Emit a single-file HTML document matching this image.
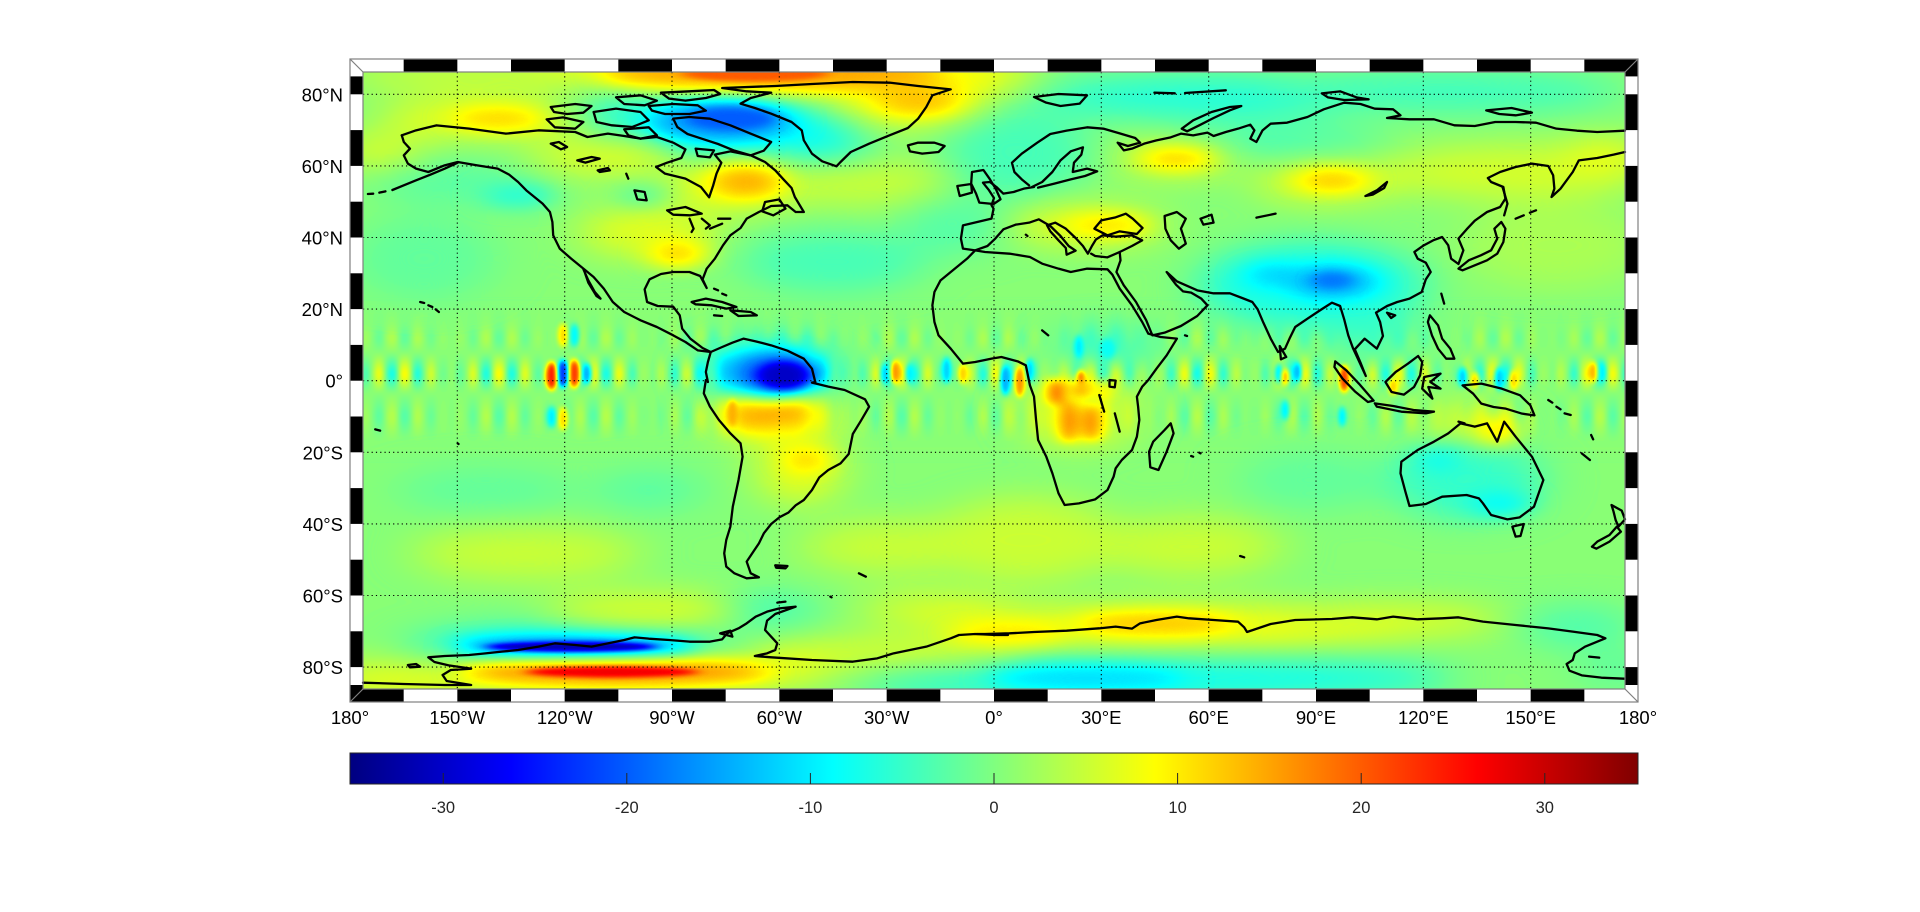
<!DOCTYPE html>
<html><head><meta charset="utf-8"><style>
html,body{margin:0;padding:0;background:#fff;}
svg{display:block}
.c path{vector-effect:non-scaling-stroke;}
text{font-family:"Liberation Sans",Arial,sans-serif;}
</style></head><body>
<svg width="1920" height="912" viewBox="0 0 1920 912" xmlns="http://www.w3.org/2000/svg">
<defs>
<clipPath id="mapclip"><rect x="363" y="72" width="1262" height="617"/></clipPath>
<clipPath id="outclip"><rect x="350" y="59" width="1288" height="643"/></clipPath>
<filter id="jet" filterUnits="userSpaceOnUse" x="340" y="50" width="1310" height="660" color-interpolation-filters="sRGB">
<feComponentTransfer>
<feFuncR type="table" tableValues="0 0 0 0 0.5 1 1 1 0.5"/>
<feFuncG type="table" tableValues="0 0 0.5 1 1 1 0.5 0 0"/>
<feFuncB type="table" tableValues="0.5 1 1 1 0.5 0 0 0 0"/>
</feComponentTransfer>
</filter>
<filter id="fA" filterUnits="userSpaceOnUse" x="-600" y="-600" width="4300" height="3100" color-interpolation-filters="sRGB"><feGaussianBlur stdDeviation="60 45"/></filter>
<filter id="fB" filterUnits="userSpaceOnUse" x="-600" y="-600" width="4300" height="3100" color-interpolation-filters="sRGB"><feGaussianBlur stdDeviation="35 25"/></filter>
<filter id="fC" filterUnits="userSpaceOnUse" x="-600" y="-600" width="4300" height="3100" color-interpolation-filters="sRGB"><feGaussianBlur stdDeviation="18 12"/></filter>
<filter id="fT" filterUnits="userSpaceOnUse" x="-600" y="-600" width="4300" height="3100" color-interpolation-filters="sRGB"><feGaussianBlur stdDeviation="18 6"/></filter>
<filter id="fD" filterUnits="userSpaceOnUse" x="-600" y="-600" width="4300" height="3100" color-interpolation-filters="sRGB"><feGaussianBlur stdDeviation="6 9"/></filter>
<filter id="fS" filterUnits="userSpaceOnUse" x="-600" y="-600" width="4300" height="3100" color-interpolation-filters="sRGB"><feGaussianBlur stdDeviation="8 10"/></filter>
<linearGradient id="gA" x1="0" y1="0" x2="0" y2="1">
<stop offset="0" stop-color="#828282"/><stop offset="0.13" stop-color="#858585"/><stop offset="0.22" stop-color="#8e8e8e"/><stop offset="0.32" stop-color="#828282"/><stop offset="0.46" stop-color="#5f5f5f"/><stop offset="0.58" stop-color="#828282"/><stop offset="0.74" stop-color="#8f8f8f"/><stop offset="0.9" stop-color="#828282"/><stop offset="1" stop-color="#828282"/>
</linearGradient>
<linearGradient id="gB" x1="0" y1="0" x2="0" y2="1">
<stop offset="0" stop-color="#828282"/><stop offset="0.13" stop-color="#7f7f7f"/><stop offset="0.22" stop-color="#767676"/><stop offset="0.32" stop-color="#828282"/><stop offset="0.46" stop-color="#a5a5a5"/><stop offset="0.58" stop-color="#828282"/><stop offset="0.74" stop-color="#737373"/><stop offset="0.9" stop-color="#828282"/><stop offset="1" stop-color="#828282"/>
</linearGradient>
<pattern id="st1" patternUnits="userSpaceOnUse" x="0" y="700" width="58" height="450"><rect x="0" y="0" width="29" height="450" fill="url(#gA)"/><rect x="29" y="0" width="29" height="450" fill="url(#gB)"/></pattern>
<pattern id="st2" patternUnits="userSpaceOnUse" x="10" y="700" width="76" height="450"><rect x="0" y="0" width="38" height="450" fill="url(#gB)"/><rect x="38" y="0" width="38" height="450" fill="url(#gA)"/></pattern>
<linearGradient id="cbar" x1="0" y1="0" x2="1" y2="0">
<stop offset="0" stop-color="#000080"/><stop offset="0.125" stop-color="#0000ff"/><stop offset="0.375" stop-color="#00ffff"/><stop offset="0.625" stop-color="#ffff00"/><stop offset="0.875" stop-color="#ff0000"/><stop offset="1" stop-color="#800000"/>
</linearGradient>
</defs>
<rect width="1920" height="912" fill="#fff"/>

<!-- frame checker -->
<g fill="#000">
<rect x="403.67" y="59" width="53.67" height="13"/><rect x="511" y="59" width="53.67" height="13"/><rect x="618.33" y="59" width="53.67" height="13"/><rect x="725.67" y="59" width="53.67" height="13"/><rect x="833" y="59" width="53.67" height="13"/><rect x="940.33" y="59" width="53.67" height="13"/><rect x="1047.67" y="59" width="53.67" height="13"/><rect x="1155" y="59" width="53.67" height="13"/><rect x="1262.33" y="59" width="53.67" height="13"/><rect x="1369.67" y="59" width="53.67" height="13"/><rect x="1477" y="59" width="53.67" height="13"/><rect x="1584.33" y="59" width="53.67" height="13"/>
<rect x="350" y="689" width="53.67" height="13"/><rect x="457.33" y="689" width="53.67" height="13"/><rect x="564.67" y="689" width="53.67" height="13"/><rect x="672" y="689" width="53.67" height="13"/><rect x="779.33" y="689" width="53.67" height="13"/><rect x="886.67" y="689" width="53.67" height="13"/><rect x="994" y="689" width="53.67" height="13"/><rect x="1101.33" y="689" width="53.67" height="13"/><rect x="1208.67" y="689" width="53.67" height="13"/><rect x="1316" y="689" width="53.67" height="13"/><rect x="1423.33" y="689" width="53.67" height="13"/><rect x="1530.67" y="689" width="53.67" height="13"/>
<rect x="350" y="76.4" width="13" height="17.9"/><rect x="350" y="130.1" width="13" height="35.8"/><rect x="350" y="201.7" width="13" height="35.8"/><rect x="350" y="273.3" width="13" height="35.8"/><rect x="350" y="344.9" width="13" height="35.8"/><rect x="350" y="416.5" width="13" height="35.8"/><rect x="350" y="488.1" width="13" height="35.8"/><rect x="350" y="559.7" width="13" height="35.8"/><rect x="350" y="631.3" width="13" height="35.8"/><rect x="350" y="685" width="13" height="17"/>
<rect x="1625" y="59" width="13" height="17.4"/><rect x="1625" y="94.3" width="13" height="35.8"/><rect x="1625" y="165.9" width="13" height="35.8"/><rect x="1625" y="237.5" width="13" height="35.8"/><rect x="1625" y="309.1" width="13" height="35.8"/><rect x="1625" y="380.7" width="13" height="35.8"/><rect x="1625" y="452.3" width="13" height="35.8"/><rect x="1625" y="523.9" width="13" height="35.8"/><rect x="1625" y="595.5" width="13" height="35.8"/><rect x="1625" y="667.1" width="13" height="17.9"/>
</g>

<!-- colour field -->
<g clip-path="url(#mapclip)">
<g filter="url(#jet)">
<rect x="340" y="50" width="1310" height="660" fill="#828282"/>
<g transform="matrix(0.408163 0 0 0.333333 363 72)">
<g filter="url(#fS)">
<rect x="-40" y="700" width="3180" height="450" fill="url(#st1)"/>
<rect x="-40" y="700" width="3180" height="450" fill="url(#st2)" opacity="0.45"/>
</g>
<g filter="url(#fA)">
<ellipse cx="1000" cy="0" rx="650" ry="90" fill="#a0a0a0"/>
<ellipse cx="250" cy="10" rx="300" ry="40" fill="#959595"/>
<ellipse cx="1350" cy="90" rx="170" ry="60" fill="#a8a8a8"/>
<ellipse cx="850" cy="170" rx="330" ry="110" fill="#626262"/>
<ellipse cx="600" cy="90" rx="140" ry="40" fill="#6a6a6a"/>
<ellipse cx="1130" cy="235" rx="110" ry="60" fill="#5f5f5f"/>
<ellipse cx="300" cy="140" rx="260" ry="55" fill="#9d9d9d"/>
<ellipse cx="40" cy="240" rx="100" ry="50" fill="#999999"/>
<ellipse cx="200" cy="330" rx="180" ry="60" fill="#757575"/>
<ellipse cx="600" cy="250" rx="180" ry="60" fill="#999999"/>
<ellipse cx="930" cy="330" rx="170" ry="80" fill="#a0a0a0"/>
<ellipse cx="700" cy="480" rx="170" ry="80" fill="#999999"/>
<ellipse cx="1150" cy="570" rx="230" ry="90" fill="#717171"/>
<ellipse cx="1450" cy="460" rx="130" ry="90" fill="#757575"/>
<ellipse cx="150" cy="560" rx="180" ry="130" fill="#787878"/>
<ellipse cx="1220" cy="330" rx="230" ry="70" fill="#929292"/>
<ellipse cx="2074" cy="75" rx="430" ry="60" fill="#666666"/>
<ellipse cx="2644" cy="60" rx="450" ry="55" fill="#6d6d6d"/>
<ellipse cx="1604" cy="240" rx="180" ry="130" fill="#717171"/>
<ellipse cx="2224" cy="215" rx="280" ry="50" fill="#717171"/>
<ellipse cx="1994" cy="260" rx="150" ry="45" fill="#a0a0a0"/>
<ellipse cx="2364" cy="325" rx="170" ry="55" fill="#a0a0a0"/>
<ellipse cx="2824" cy="300" rx="330" ry="80" fill="#959595"/>
<ellipse cx="3044" cy="240" rx="90" ry="35" fill="#a4a4a4"/>
<ellipse cx="1774" cy="460" rx="190" ry="55" fill="#9d9d9d"/>
<ellipse cx="2324" cy="640" rx="280" ry="130" fill="#666666"/>
<ellipse cx="1824" cy="820" rx="110" ry="55" fill="#6a6a6a"/>
<ellipse cx="2474" cy="780" rx="110" ry="70" fill="#6d6d6d"/>
<ellipse cx="2924" cy="520" rx="230" ry="130" fill="#8a8a8a"/>
<ellipse cx="1000" cy="900" rx="160" ry="100" fill="#5f5f5f"/>
<ellipse cx="1010" cy="1034" rx="150" ry="80" fill="#a0a0a0"/>
<ellipse cx="1070" cy="1194" rx="95" ry="100" fill="#9d9d9d"/>
<ellipse cx="520" cy="1720" rx="420" ry="55" fill="#626262"/>
<ellipse cx="620" cy="1800" rx="520" ry="60" fill="#a0a0a0"/>
<ellipse cx="100" cy="1824" rx="230" ry="50" fill="#9d9d9d"/>
<ellipse cx="700" cy="1624" rx="260" ry="55" fill="#999999"/>
<ellipse cx="1400" cy="1614" rx="190" ry="45" fill="#999999"/>
<ellipse cx="1300" cy="1744" rx="330" ry="35" fill="#9d9d9d"/>
<ellipse cx="1450" cy="1829" rx="230" ry="40" fill="#666666"/>
<ellipse cx="1000" cy="1614" rx="110" ry="45" fill="#6d6d6d"/>
<ellipse cx="400" cy="1444" rx="280" ry="80" fill="#929292"/>
<ellipse cx="1300" cy="1424" rx="230" ry="80" fill="#929292"/>
<ellipse cx="300" cy="1254" rx="230" ry="70" fill="#787878"/>
<ellipse cx="700" cy="1254" rx="140" ry="60" fill="#757575"/>
<ellipse cx="1754" cy="1024" rx="130" ry="100" fill="#9d9d9d"/>
<ellipse cx="2704" cy="1224" rx="190" ry="120" fill="#6d6d6d"/>
<ellipse cx="2704" cy="1054" rx="110" ry="55" fill="#999999"/>
<ellipse cx="2024" cy="1664" rx="620" ry="60" fill="#a0a0a0"/>
<ellipse cx="2524" cy="1644" rx="280" ry="45" fill="#999999"/>
<ellipse cx="2024" cy="1819" rx="650" ry="60" fill="#626262"/>
<ellipse cx="2974" cy="1664" rx="140" ry="55" fill="#717171"/>
<ellipse cx="1624" cy="1404" rx="230" ry="130" fill="#929292"/>
<ellipse cx="2024" cy="1424" rx="230" ry="90" fill="#929292"/>
<ellipse cx="2324" cy="1224" rx="180" ry="90" fill="#787878"/>
<ellipse cx="3074" cy="1794" rx="100" ry="50" fill="#757575"/>
</g>
<g filter="url(#fB)">
<ellipse cx="1000" cy="5" rx="420" ry="45" fill="#b6b6b6"/>
<ellipse cx="1360" cy="85" rx="90" ry="35" fill="#afafaf"/>
<ellipse cx="880" cy="150" rx="180" ry="60" fill="#494949"/>
<ellipse cx="330" cy="140" rx="110" ry="30" fill="#ababab"/>
<ellipse cx="940" cy="330" rx="85" ry="45" fill="#b3b3b3"/>
<ellipse cx="770" cy="545" rx="70" ry="40" fill="#ababab"/>
<ellipse cx="380" cy="370" rx="90" ry="40" fill="#6a6a6a"/>
<ellipse cx="680" cy="370" rx="60" ry="30" fill="#757575"/>
<ellipse cx="1010" cy="905" rx="110" ry="65" fill="#373737"/>
<ellipse cx="900" cy="900" rx="25" ry="55" fill="#4c4c4c"/>
<ellipse cx="1994" cy="260" rx="85" ry="25" fill="#afafaf"/>
<ellipse cx="2374" cy="325" rx="85" ry="28" fill="#afafaf"/>
<ellipse cx="1824" cy="460" rx="100" ry="28" fill="#a8a8a8"/>
<ellipse cx="2374" cy="630" rx="110" ry="50" fill="#4c4c4c"/>
<ellipse cx="2234" cy="610" rx="70" ry="35" fill="#545454"/>
<ellipse cx="960" cy="1034" rx="45" ry="45" fill="#b6b6b6"/>
<ellipse cx="1050" cy="1024" rx="50" ry="40" fill="#b6b6b6"/>
<ellipse cx="910" cy="1024" rx="25" ry="45" fill="#afafaf"/>
<ellipse cx="1090" cy="1164" rx="45" ry="30" fill="#afafaf"/>
<ellipse cx="520" cy="1722" rx="300" ry="28" fill="#373737"/>
<ellipse cx="620" cy="1800" rx="380" ry="32" fill="#c1c1c1"/>
<ellipse cx="2779" cy="1074" rx="35" ry="45" fill="#b3b3b3"/>
<ellipse cx="2784" cy="1294" rx="75" ry="35" fill="#5f5f5f"/>
<ellipse cx="2634" cy="1164" rx="55" ry="35" fill="#626262"/>
<ellipse cx="1944" cy="1654" rx="190" ry="30" fill="#afafaf"/>
<ellipse cx="1584" cy="1684" rx="140" ry="25" fill="#a8a8a8"/>
<ellipse cx="1774" cy="1819" rx="240" ry="35" fill="#575757"/>
</g>
<g filter="url(#fC)">
<ellipse cx="900" cy="140" rx="110" ry="35" fill="#373737"/>
<ellipse cx="1030" cy="910" rx="65" ry="42" fill="#121212"/>
<ellipse cx="2374" cy="625" rx="50" ry="25" fill="#3e3e3e"/>
<ellipse cx="1699" cy="959" rx="18" ry="40" fill="#d0d0d0"/>
<ellipse cx="1729" cy="1049" rx="18" ry="65" fill="#c5c5c5"/>
<ellipse cx="1759" cy="949" rx="14" ry="30" fill="#c8c8c8"/>
<ellipse cx="1784" cy="1054" rx="18" ry="55" fill="#c5c5c5"/>
<ellipse cx="1814" cy="954" rx="10" ry="30" fill="#b6b6b6"/>
</g>
<g filter="url(#fT)">
<ellipse cx="960" cy="6" rx="180" ry="22" fill="#c8c8c8"/>
<ellipse cx="510" cy="1724" rx="210" ry="14" fill="#0b0b0b"/>
<ellipse cx="610" cy="1800" rx="210" ry="16" fill="#e2e2e2"/>
</g>
<g filter="url(#fD)">
<ellipse cx="462" cy="912" rx="14" ry="42" fill="#d7d7d7"/>
<ellipse cx="490" cy="905" rx="14" ry="42" fill="#2f2f2f"/>
<ellipse cx="518" cy="905" rx="14" ry="42" fill="#d0d0d0"/>
<ellipse cx="548" cy="905" rx="12" ry="32" fill="#4c4c4c"/>
<ellipse cx="462" cy="1035" rx="12" ry="32" fill="#5b5b5b"/>
<ellipse cx="490" cy="1040" rx="12" ry="35" fill="#a8a8a8"/>
<ellipse cx="490" cy="790" rx="12" ry="35" fill="#a8a8a8"/>
<ellipse cx="518" cy="790" rx="12" ry="35" fill="#5f5f5f"/>
<ellipse cx="1305" cy="900" rx="12" ry="35" fill="#bababa"/>
<ellipse cx="1280" cy="905" rx="10" ry="30" fill="#545454"/>
<ellipse cx="1340" cy="905" rx="10" ry="30" fill="#5b5b5b"/>
<ellipse cx="1470" cy="905" rx="12" ry="30" fill="#ababab"/>
<ellipse cx="1430" cy="895" rx="12" ry="40" fill="#545454"/>
<ellipse cx="1574" cy="925" rx="12" ry="45" fill="#4c4c4c"/>
<ellipse cx="1609" cy="930" rx="12" ry="45" fill="#bababa"/>
<ellipse cx="1634" cy="895" rx="10" ry="35" fill="#545454"/>
<ellipse cx="1754" cy="825" rx="12" ry="35" fill="#5b5b5b"/>
<ellipse cx="1824" cy="830" rx="20" ry="30" fill="#626262"/>
<ellipse cx="1759" cy="915" rx="10" ry="20" fill="#c1c1c1"/>
<ellipse cx="2244" cy="905" rx="10" ry="30" fill="#545454"/>
<ellipse cx="2259" cy="915" rx="10" ry="25" fill="#b3b3b3"/>
<ellipse cx="2289" cy="900" rx="10" ry="30" fill="#4c4c4c"/>
<ellipse cx="2404" cy="920" rx="12" ry="40" fill="#d0d0d0"/>
<ellipse cx="2399" cy="1034" rx="10" ry="30" fill="#5b5b5b"/>
<ellipse cx="2259" cy="1014" rx="10" ry="30" fill="#5b5b5b"/>
<ellipse cx="2524" cy="944" rx="12" ry="25" fill="#ababab"/>
<ellipse cx="2694" cy="915" rx="12" ry="30" fill="#545454"/>
<ellipse cx="2724" cy="925" rx="10" ry="25" fill="#ababab"/>
<ellipse cx="2784" cy="920" rx="12" ry="35" fill="#545454"/>
<ellipse cx="2819" cy="925" rx="10" ry="30" fill="#ababab"/>
<ellipse cx="3014" cy="900" rx="12" ry="30" fill="#b3b3b3"/>
<ellipse cx="3034" cy="900" rx="10" ry="30" fill="#5b5b5b"/>
<ellipse cx="905" cy="1024" rx="12" ry="40" fill="#b3b3b3"/>
</g>
</g>
</g>
</g>

<!-- grid -->
<g stroke="#000" stroke-width="1.1" stroke-dasharray="1.2 3.1" fill="none">
<path d="M457.3,72V689M564.7,72V689M672,72V689M779.3,72V689M886.7,72V689M994,72V689M1101.3,72V689M1208.7,72V689M1316,72V689M1423.3,72V689M1530.7,72V689"/>
<path d="M363,94.3H1625M363,165.9H1625M363,237.5H1625M363,309.1H1625M363,380.7H1625M363,452.3H1625M363,523.9H1625M363,595.5H1625M363,667.1H1625"/>
</g>

<!-- coastlines -->
<g clip-path="url(#outclip)">
<g class="c" transform="matrix(0.408163 0 0 0.333333 363 72)" fill="none" stroke="#000" stroke-width="2.3" stroke-linejoin="round" stroke-linecap="round">
<!-- NW -->
<path d="M95,190 L130,175 L180,160 L260,170 L350,185 L430,175 L520,180 L550,195 L600,185 L640,192 L680,200 L720,195 L760,212 L790,232 L780,258 L745,272 L718,285 L740,305 L790,320 L828,345 L848,376 L858,340 L866,305 L878,272 L862,248 L900,238 L950,250 L985,270 L1010,295 L1030,322 L1050,348 L1058,375 L1080,420 L1060,420 L1040,400 L1000,402 L970,420 L940,440 L925,468 L900,490 L882,520 L862,560 L842,590 L832,622 L842,648 L826,612 L800,600 L760,600 L730,606 L702,622 L690,652 L696,690 L722,702 L760,704 L776,730 L782,770 L802,800 L832,828 L852,840 L880,825 L905,812 L932,800 L962,808 L1000,820 L1040,836 L1080,860 L1100,890 L1108,930"/>
<path d="M845,930 L840,900 L845,870 L852,840 L820,835 L790,810 L760,790 L720,765 L680,745 L640,720 L612,690 L590,650 L565,615 L540,590 L510,560 L482,530 L466,490 L464,450 L458,420 L440,395 L420,375 L400,355 L380,330 L358,308 L330,290 L280,280 L232,270 L200,280 L160,300 L130,290 L110,275 L100,250 L115,230 L100,210 L95,190"/>
<path d="M232,272 L200,290 L165,308 L130,325 L100,340 L72,354 M55,358 L40,362 M25,365 L12,366"/>
<path d="M540,592 L552,625 L568,660 L582,680 L572,672 L552,632 L543,600"/>
<path d="M805,690 L840,680 L880,690 L915,705 L890,710 L855,700 L815,697 Z M900,715 L950,720 L965,730 L920,732 Z M860,730 L880,732 M860,650 L870,655 M880,665 L890,670"/>
<path d="M745,415 L790,405 L830,425 L800,430 L760,428 Z M800,440 L810,470 L805,480 M830,440 L850,460 L840,470 M850,470 L880,455 M870,440 L900,440"/>
<path d="M985,390 L1020,382 L1035,410 L1005,430 L978,418 Z"/>
<path d="M460,215 L480,210 L500,225 L485,232 Z M525,265 L560,255 L580,260 L545,272 Z M575,295 L600,288 L605,295 L580,300 Z M645,305 L650,320 M665,355 L690,360 L695,385 L672,382 Z"/>
<path d="M880,48 L1010,42 L1100,36 L1200,30 L1290,32 L1360,42 L1440,52 L1395,70 L1380,105 L1360,140 L1335,168 L1290,190 L1240,215 L1195,240 L1170,270 L1160,283 L1125,268 L1100,245 L1080,205 L1075,175 L1050,150 L1000,125 L960,108 L925,95 L950,78 L1000,62 L940,58 Z"/>
<path d="M1335,220 L1360,212 L1400,212 L1425,222 L1410,240 L1370,245 L1340,238 Z"/>
<path d="M460,105 L520,96 L560,102 L540,122 L500,126 L468,120 Z M450,142 L490,136 L540,150 L520,170 L470,166 Z M565,120 L620,110 L680,120 L700,145 L660,165 L610,160 L572,150 Z M620,76 L680,70 L720,86 L690,100 L640,96 Z M700,102 L760,96 L820,100 L840,116 L800,126 L740,126 L708,116 Z M640,172 L700,166 L720,190 L680,200 L650,190 Z M760,140 L800,135 L850,140 L900,160 L950,185 L1000,210 L982,236 L950,250 L910,236 L870,216 L830,200 L795,186 L770,165 Z M815,230 L860,235 L850,256 L820,252 Z M730,62 L800,58 L860,54 L875,66 L840,78 L790,86 L750,80 Z"/>
<path d="M140,690 L150,693 M160,700 L170,705 M178,712 L186,720"/>
<path d="M1492,300 L1520,294 L1535,320 L1550,350 L1562,382 L1545,396 L1510,392 L1502,365 L1490,335 Z M1456,342 L1490,336 L1492,362 L1462,372 Z"/>
<!-- Africa (global) -->
<path d="M1500,535 L1480,560 L1440,600 L1415,625 L1400,660 L1395,700 L1400,750 L1410,790 L1440,830 L1470,875 L1500,870 L1540,860 L1564,855 L1604,868 L1624,880 L1634,940 L1644,974 L1649,1044 L1654,1104 L1674,1154 L1689,1204 L1704,1264 L1719,1299 L1754,1294 L1794,1282 L1824,1254 L1839,1214 L1844,1189 L1859,1164 L1884,1134 L1896,1094 L1902,1044 L1899,1004 L1896,974 L1909,944 L1924,924 L1944,890 L1969,850 L1994,800 L1954,795 L1924,785 L1909,750 L1884,700 L1854,650 L1836,608 L1824,592 L1774,590 L1734,600 L1704,590 L1664,575 L1634,555 L1584,545 L1524,540 Z"/>
<!-- Indonesia / New Guinea (global) -->
<path d="M2382,868 L2409,895 L2440,935 L2476,986 L2462,990 L2430,958 L2400,920 L2380,885 Z"/>
<path d="M2505,930 L2530,900 L2560,875 L2585,852 L2595,870 L2590,910 L2575,945 L2550,968 L2520,960 Z"/>
<path d="M2600,915 L2640,905 L2615,930 L2640,950 L2610,945 L2620,980 L2595,950 Z"/>
<path d="M2694,940 L2740,935 L2790,950 L2835,970 L2860,1000 L2870,1030 L2840,1025 L2800,1010 L2770,1005 L2740,995 L2720,965 Z"/>
<!-- NE -->
<g transform="translate(1523.9,0)">
<path d="M108,340 L90,322 L72,300 L66,272 L90,245 L128,212 L160,186 L200,176 L250,166 L290,170 L330,184 L368,198 L380,212 L350,222 L325,212 L340,235 L360,230 L390,215 L420,205 L455,196 L480,185 L510,190 L545,182 L560,192 L590,180 L620,170 L650,158 L660,175 L650,200 L665,210 L680,175 L700,155 L740,152 L790,135 L830,112 L880,92 L920,96 L955,110 L1000,112 L1018,130 L985,138 L1040,142 L1100,142 L1150,160 L1200,162 L1250,150 L1300,150 L1350,152 L1400,170 L1450,176 L1500,180 L1568,176"/>
<path d="M115,345 L140,330 L165,300 L185,265 L210,238 L240,226 L236,248 L218,272 L215,300 L250,290 L275,298 L245,312 L210,322 L170,335 L130,347"/>
<path d="M120,345 L95,350 L70,360 L45,365 L28,345 L12,330 L-5,332 L10,355 L22,378 L16,400 L21,410 L16,440 L-54,460 L-59,500 L-54,530 L-24,535 L6,522 L25,500 L45,472 L75,458 L108,452 L132,442 L160,462 L185,492 L205,522 L222,536 L200,548 L198,528 L180,505 L160,478 L152,460 L172,452 L198,470 L222,498 L240,522 L252,545 L262,522 L272,502 L288,490 L320,494 L360,490 L385,505 L360,522 L330,540 L300,556 L270,552 L260,545"/>
<path d="M330,540 L332,565 L322,600 L340,640 L370,690 L395,745 L410,790 L440,782 L480,762 L520,732 L545,700 L530,680 L505,662 L485,658 L468,638 L452,612 L445,600 L470,628 L520,655 L560,664 L600,664 L630,678 L655,690 L668,712 L682,752 L700,800 L718,840 L735,830 L746,800 L760,765 L790,740 L822,714 L850,692 L870,702 L880,742 L890,790 L902,830 L918,872 L933,912 L920,872 L906,832 L930,800 L960,830 L975,792 L968,750 L958,722 L985,702 L1010,690 L1040,680 L1070,660 L1080,622 L1092,600 L1080,572 L1060,560 L1052,540 L1075,520 L1098,505 L1120,495 L1135,520 L1142,560 L1160,576 L1172,535 L1160,500 L1180,472 L1200,446 L1230,420 L1262,405 L1275,380 L1270,345 L1240,330 L1232,318 L1262,300 L1300,285 L1340,275 L1380,282 L1392,310 L1395,350 L1388,375 L1410,350 L1440,300 L1455,265 L1500,258 L1540,248 L1568,240"/>
<path d="M482,170 L510,145 L555,120 L600,105 L628,102 L600,115 L560,138 L525,160 L495,178 Z"/>
<path d="M120,75 L180,66 L250,70 L232,95 L185,102 L150,92 Z"/>
<path d="M415,62 L465,64 M490,63 L590,55"/>
<path d="M825,64 L870,58 L910,76 L940,82 L880,84 L840,76 Z"/>
<path d="M1228,115 L1290,108 L1340,122 L1300,130 L1260,126 Z"/>
<path d="M268,470 L285,445 L320,436 L345,425 L362,440 L386,468 L372,486 L330,478 L300,490 Z"/>
<path d="M440,432 L470,420 L492,440 L480,470 L492,515 L475,530 L455,505 L442,470 Z"/>
<path d="M528,440 L555,428 L560,452 L535,458 Z M665,437 L712,425 M932,372 L960,355 L985,330 L978,348 L950,368 Z"/>
<path d="M1160,590 L1185,565 L1215,550 L1240,535 L1255,500 L1248,470 L1265,450 L1275,470 L1270,510 L1255,545 L1230,565 L1200,580 L1170,595 Z"/>
<path d="M1268,345 L1280,395 L1272,430 M1300,440 L1320,430 M1335,422 L1350,415"/>
<path d="M1118,665 L1125,695 M985,722 L1005,730 L995,738 Z"/>
<path d="M1090,730 L1110,760 L1120,800 L1140,830 L1150,860 L1130,860 L1110,830 L1095,790 L1085,750 Z"/>
<path d="M722,822 L738,855 L725,862 Z M140,775 L155,790 M490,790 L495,792 M100,488 L104,492"/>
</g>
<!-- SW -->
<g transform="translate(0,924)">
<path d="M840,0 L835,40 L850,80 L872,120 L900,160 L925,190 L930,230 L920,300 L906,380 L900,440 L890,480 L885,520 L890,560 L910,580 L940,595 L970,592 L950,580 L940,545 L958,512 L970,490 L982,460 L1000,432 L1020,412 L1042,398 L1060,376 L1080,360 L1100,330 L1118,292 L1140,270 L1170,250 L1190,222 L1200,162 L1220,122 L1240,80 L1230,58 L1180,30 L1140,20 L1100,8 L1108,6"/>
<path d="M1010,556 L1040,558 L1035,565 L1012,563 Z M1215,580 L1232,590 M1145,650 L1148,652 M30,148 L42,152 M232,190 L234,192"/>
<path d="M0,908 L100,912 L200,915 L265,915 L205,903 L195,885 L215,870 L265,866 L210,856 L175,846 L160,832 L200,828 L260,825 L300,820 L340,815 L380,810 L430,800 L470,790 L520,795 L560,800 L600,790 L640,780 L665,772 L700,776 L750,780 L800,785 L850,785 L880,778 L892,760 L920,745 L940,730 L962,710 L990,695 L1020,685 L1060,680 L1010,702 L990,722 L985,750 L1000,770 L1015,790 L1010,810 L990,820 L960,828 L1000,832 L1100,840 L1200,845 L1260,835 L1300,820 L1380,800 L1440,775 L1460,765 L1500,762 L1550,765 L1580,765"/>
<path d="M110,855 L130,852 L140,860 L115,862 Z M875,760 L900,752 L905,770 Z M1015,668 L1035,665"/>
</g>
<!-- SE -->
<g transform="translate(1523.9,924)">
<path d="M412,185 L440,150 L455,130 L462,160 L445,215 L425,270 L405,262 L402,215 Z"/>
<path d="M305,0 L320,2 L318,22 L305,20 Z M280,45 L292,95 M318,100 L330,155"/>
<path d="M1020,245 L1060,210 L1100,185 L1135,160 L1165,130 L1200,140 L1230,130 L1255,185 L1272,125 L1300,170 L1340,230 L1368,300 L1345,380 L1310,412 L1280,418 L1240,405 L1220,370 L1210,355 L1180,345 L1120,350 L1080,372 L1040,378 L1030,335 L1018,280 Z"/>
<path d="M1292,440 L1320,432 L1312,468 L1300,470 Z"/>
<path d="M1535,375 L1560,392 L1568,418 L1552,440 L1545,420 L1540,395 Z M1548,440 L1530,465 L1500,485 L1487,500 L1498,506 L1530,485 L1558,455 Z M1462,220 L1482,240 M1485,165 L1490,178 M505,228 L510,230 M525,218 L528,220 M625,528 L635,532"/>
<path d="M955,70 L1000,78 L1050,90 L1100,95 L1080,100 L1020,95 L960,80 Z M1160,125 L1175,130 M1380,60 L1390,68 M1400,80 L1410,88 M1420,100 L1435,105"/>
<path d="M-20,762 L0,762 L60,760 L120,756 L200,752 L280,745 L320,740 L360,746 L380,730 L420,720 L470,710 L500,715 L560,720 L620,725 L635,742 L642,756 L700,732 L760,720 L850,717 L900,712 L960,718 L1000,710 L1060,718 L1120,715 L1160,712 L1220,725 L1300,735 L1380,745 L1440,755 L1500,765 L1520,775 L1470,800 L1445,820 L1440,840 L1425,852 L1432,872 L1462,886 L1510,893 L1600,898"/>
<path d="M1480,830 L1505,833"/>
</g>
</g>
</g>

<!-- frame outlines -->
<g stroke="#808080" stroke-width="1.2" fill="none">
<rect x="350" y="59" width="1288" height="643"/>
<rect x="363" y="72" width="1262" height="617"/>
<path d="M350,59 L363,72 M1638,59 L1625,72 M350,702 L363,689 M1638,702 L1625,689"/>
</g>

<!-- latitude labels -->
<g font-size="18.5" fill="#000" text-anchor="end">
<text x="343" y="101.3">80°N</text>
<text x="343" y="172.9">60°N</text>
<text x="343" y="244.5">40°N</text>
<text x="343" y="316.1">20°N</text>
<text x="343" y="387.7">0°</text>
<text x="343" y="459.3">20°S</text>
<text x="343" y="530.9">40°S</text>
<text x="343" y="602.5">60°S</text>
<text x="343" y="674.1">80°S</text>
</g>
<!-- longitude labels -->
<g font-size="18.5" fill="#000" text-anchor="middle">
<text x="350" y="724">180°</text>
<text x="457.3" y="724">150°W</text>
<text x="564.7" y="724">120°W</text>
<text x="672" y="724">90°W</text>
<text x="779.3" y="724">60°W</text>
<text x="886.7" y="724">30°W</text>
<text x="994" y="724">0°</text>
<text x="1101.3" y="724">30°E</text>
<text x="1208.7" y="724">60°E</text>
<text x="1316" y="724">90°E</text>
<text x="1423.3" y="724">120°E</text>
<text x="1530.7" y="724">150°E</text>
<text x="1638" y="724">180°</text>
</g>

<!-- colorbar -->
<rect x="350" y="753" width="1288" height="31" fill="url(#cbar)" stroke="#262626" stroke-width="1"/>
<path d="M443.2,773V784M626.8,773V784M810.4,773V784M994,773V784M1177.6,773V784M1361.2,773V784M1544.8,773V784" stroke="#262626" stroke-width="1"/>
<g font-size="16.5" fill="#262626" text-anchor="middle">
<text x="443.2" y="813">-30</text>
<text x="626.8" y="813">-20</text>
<text x="810.4" y="813">-10</text>
<text x="994" y="813">0</text>
<text x="1177.6" y="813">10</text>
<text x="1361.2" y="813">20</text>
<text x="1544.8" y="813">30</text>
</g>
</svg>
</body></html>
